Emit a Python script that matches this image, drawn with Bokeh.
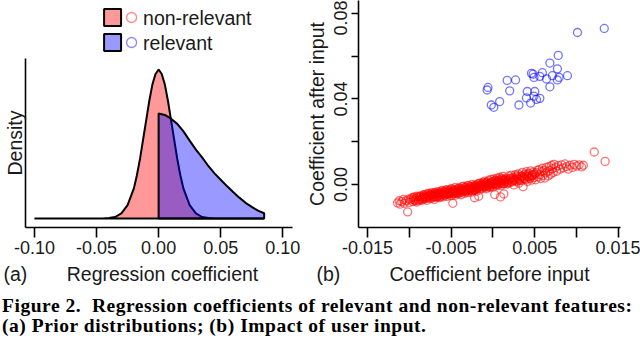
from bokeh.plotting import figure
from bokeh.models import Range1d, FixedTicker, Div, ColumnDataSource
from bokeh.layouts import row, column
from bokeh.core.properties import value
from bokeh.embed import file_html
from bokeh.resources import INLINE

# ---------------- data ----------------
series_names = ["non-relevant", "relevant"]
series_colors = ["red", "blue"]

# panel (a): prior densities
nonrel_x = [-0.1, -0.045, -0.04, -0.035, -0.03, -0.025, -0.02, -0.0175, -0.015, -0.0125,
            -0.01, -0.0075, -0.005, -0.0025, 0.0, 0.0025, 0.005, 0.0075, 0.01, 0.0125,
            0.015, 0.0175, 0.02, 0.025, 0.03, 0.035, 0.04, 0.045, 0.085]
nonrel_density = [0.0, 0.0, 0.12, 0.4, 1.4, 3.6, 8.0, 11.6, 16.0, 21.2,
                  26.4, 31.6, 36.0, 38.8, 40.0, 38.8, 36.0, 31.6, 26.4, 21.2,
                  16.0, 11.6, 8.0, 3.6, 1.4, 0.4, 0.12, 0.0, 0.0]
rel_x = [0.0, 0.005, 0.01, 0.015, 0.02, 0.025, 0.03, 0.035, 0.04, 0.045,
         0.05, 0.055, 0.06, 0.065, 0.07, 0.075, 0.08, 0.085]
rel_density = [28.2, 27.8, 26.8, 25.4, 23.4, 20.9, 18.5, 16.4, 14.1, 12.1,
               10.4, 8.7, 7.1, 5.6, 4.2, 3.1, 2.1, 1.4]

xa_ticks = [-0.10, -0.05, 0.0, 0.05, 0.10]
xa_labels = ["-0.10", "-0.05", "0.00", "0.05", "0.10"]

# panel (b): coefficients before / after user input
nonrel_before = [
    -0.0114, -0.0112, -0.0111, -0.0109, -0.0107, -0.0106, -0.0104, -0.0102, -0.0101, -0.0100,
    -0.0099, -0.0097, -0.0096, -0.0095, -0.0094, -0.0093, -0.0092, -0.0091, -0.0090, -0.0089,
    -0.0088, -0.0087,
    -0.0086, -0.0085, -0.0084, -0.0083, -0.0082, -0.0081, -0.0080, -0.0080, -0.0079, -0.0078,
    -0.0077, -0.0076, -0.0075, -0.0075, -0.0074, -0.0073, -0.0072, -0.0071, -0.0070, -0.0070,
    -0.0069, -0.0068, -0.0067, -0.0066, -0.0065, -0.0065, -0.0064, -0.0063, -0.0062, -0.0061,
    -0.0060, -0.0060,
    -0.0058, -0.0057, -0.0056, -0.0055, -0.0055, -0.0054, -0.0053, -0.0052, -0.0051, -0.0050,
    -0.0050, -0.0049, -0.0048, -0.0048, -0.0047, -0.0046, -0.0045, -0.0045, -0.0044, -0.0043,
    -0.0042, -0.0041, -0.0040, -0.0040, -0.0039, -0.0038, -0.0037, -0.0036, -0.0035, -0.0035,
    -0.0034, -0.0033, -0.0032, -0.0031, -0.0030, -0.0030, -0.0029, -0.0028, -0.0027, -0.0026,
    -0.0025, -0.0025, -0.0024, -0.0023, -0.0022, -0.0022, -0.0021, -0.0020, -0.0020,
    -0.0019, -0.0018, -0.0017, -0.0017, -0.0016, -0.0015, -0.0015, -0.0013, -0.0012, -0.0011,
    -0.0010, -0.0010, -0.0009, -0.0008, -0.0007, -0.0006, -0.0005, -0.0005, -0.0004, -0.0003,
    -0.0002, -0.0001, 0.0000, 0.0000, 0.0001, 0.0002, 0.0002, 0.0003, 0.0004, 0.0005,
    0.0005, 0.0006, 0.0007, 0.0008, 0.0009, 0.0009, 0.0010, 0.0010, 0.0011, 0.0012,
    0.0013, 0.0013, 0.0014, 0.0015,
    0.0016, 0.0017, 0.0018, 0.0019, 0.0020, 0.0021, 0.0022, 0.0023, 0.0024, 0.0025,
    0.0026, 0.0027, 0.0028, 0.0029, 0.0030, 0.0031, 0.0032, 0.0033, 0.0034, 0.0035,
    0.0036, 0.0037, 0.0038, 0.0039, 0.0040, 0.0041, 0.0042, 0.0043, 0.0044, 0.0045,
    0.0046, 0.0047, 0.0048, 0.0049, 0.0050,
    0.0051, 0.0052, 0.0053, 0.0054, 0.0055, 0.0056, 0.0057, 0.0058, 0.0059, 0.0060,
    0.0061, 0.0062, 0.0063, 0.0064, 0.0065, 0.0066, 0.0067, 0.0068, 0.0069, 0.0070,
    0.0071, 0.0072, 0.0073, 0.0075, 0.0076, 0.0078, 0.0080, 0.0082, 0.0084, 0.0086,
    0.0088, 0.0090, 0.0092, 0.0095, 0.0097, 0.0100, 0.0103, 0.0106, 0.0108, 0.0121,
    0.0134,
    -0.0084, -0.0082, -0.0079, -0.0077, -0.0074, -0.0072, -0.0070, -0.0068, -0.0066, -0.0064,
    -0.0062, -0.0060, -0.0058, -0.0056, -0.0054, -0.0052, -0.0050, -0.0048, -0.0046, -0.0044,
    -0.0042, -0.0041, -0.0039, -0.0038, -0.0036, -0.0034, -0.0033, -0.0031, -0.0029, -0.0028,
    -0.0026, -0.0024, -0.0023, -0.0021, -0.0019, -0.0018, -0.0016, -0.0014, -0.0013, -0.0011,
    -0.0009, -0.0008, -0.0006, -0.0004, -0.0003, -0.0001, 0.0001, 0.0003, 0.0004, 0.0006,
    0.0008, 0.0011, 0.0012, 0.0014, 0.0017, 0.0019, 0.0022, 0.0024, 0.0027, 0.0029,
    0.0032, 0.0034, 0.0037, 0.0040, 0.0043, 0.0046, 0.0049,
    -0.0095, -0.0093, -0.0091, -0.0089, -0.0087, -0.0085, -0.0083, -0.0081, -0.0078, -0.0076,
    -0.0073, -0.0071, -0.0069, -0.0067, -0.0065, -0.0063, -0.0061, -0.0059, -0.0057, -0.0055,
    -0.0053, -0.0051, -0.0049, -0.0047, -0.0045, -0.0043, -0.0041, -0.0039, -0.0037, -0.0035,
    -0.0033, -0.0031, -0.0029, -0.0027, -0.0025, -0.0023, -0.0021, -0.0019, -0.0017, -0.0015,
    -0.0013, -0.0011, -0.0009, -0.0007, -0.0005, -0.0003, -0.0001, 0.0001, 0.0003, 0.0005,
    0.0007, 0.0009, 0.0011, 0.0013, 0.0015, 0.0018, 0.0021, 0.0025, 0.0028, 0.0031,
    0.0035, 0.0038, 0.0041, 0.0044, 0.0047,
]
nonrel_after = [
    -0.0086, -0.0076, -0.0092, -0.0080, -0.0070, -0.0088, -0.0076, -0.0128, -0.0068, -0.0084,
    -0.0072, -0.0062, -0.0080, -0.0070, -0.0058, -0.0076, -0.0066, -0.0082, -0.0060, -0.0072,
    -0.0054, -0.0068,
    -0.0055, -0.0072, -0.0060, -0.0048, -0.0068, -0.0058, -0.0064, -0.0046, -0.0074, -0.0052,
    -0.0060, -0.0042, -0.0066, -0.0050, -0.0056, -0.0038, -0.0062, -0.0048, -0.0070, -0.0040,
    -0.0054, -0.0046, -0.0060, -0.0034, -0.0052, -0.0042, -0.0062, -0.0036, -0.0050, -0.0028,
    -0.0044, -0.0058,
    -0.0052, -0.0032, -0.0044, -0.0024, -0.0056, -0.0038, -0.0048, -0.0028, -0.0040, -0.0020,
    -0.0052, -0.0034, -0.0088, -0.0044, -0.0026, -0.0040, -0.0014, -0.0050, -0.0032, -0.0022,
    -0.0044, -0.0030, -0.0016, -0.0040, -0.0026, -0.0048, -0.0020, -0.0036, -0.0008, -0.0030,
    -0.0042, -0.0016, -0.0034, -0.0022, -0.0004, -0.0038, -0.0018, -0.0028, -0.0010, -0.0036,
    -0.0020, 0.0000, -0.0030, -0.0014, -0.0026, -0.0062, -0.0006, -0.0022, -0.0032,
    -0.0020, 0.0002, -0.0012, -0.0055, -0.0026, 0.0006, -0.0006, -0.0018, 0.0010, -0.0004,
    -0.0014, 0.0016, -0.0002, -0.0020, 0.0012, -0.0008, 0.0020, 0.0000, -0.0014, 0.0008,
    0.0024, -0.0004, 0.0014, -0.0012, 0.0026, -0.0047, 0.0004, 0.0018, -0.0006, 0.0030,
    0.0010, -0.0002, 0.0022, 0.0034, -0.0058, 0.0008, 0.0028, -0.0004, 0.0018, 0.0038,
    -0.0044, 0.0004, 0.0024, 0.0012,
    0.0030, 0.0002, 0.0020, 0.0040, 0.0008, 0.0026, 0.0044, 0.0012, 0.0032, -0.0002,
    0.0020, 0.0046, 0.0014, 0.0036, 0.0050, 0.0006, 0.0028, 0.0040, 0.0018, 0.0056,
    -0.0010, 0.0034, 0.0048, 0.0022, 0.0060, 0.0014, 0.0038, 0.0052, 0.0028, 0.0064,
    0.0020, 0.0044, 0.0058, 0.0032, 0.0050,
    0.0022, 0.0056, 0.0066, 0.0036, 0.0070, 0.0046, 0.0028, 0.0060, 0.0076, 0.0042,
    0.0066, 0.0030, 0.0054, 0.0080, 0.0060, 0.0040, 0.0084, 0.0066, 0.0048, 0.0090,
    0.0074, 0.0056, 0.0094, 0.0080, 0.0062, 0.0088, 0.0072, 0.0092, 0.0078, 0.0096,
    0.0084, 0.0072, 0.0090, 0.0080, 0.0094, 0.0086, 0.0092, 0.0082, 0.0090, 0.0152,
    0.0108,
    -0.0066, -0.0056, -0.0060, -0.0054, -0.0048, -0.0052, -0.0058, -0.0042, -0.0054, -0.0046,
    -0.0040, -0.0050, -0.0036, -0.0038, -0.0042, -0.0036, -0.0042, -0.0030, -0.0034, -0.0038,
    -0.0024, -0.0036, -0.0034, -0.0022, -0.0026, -0.0030, -0.0024, -0.0028, -0.0024, -0.0014,
    -0.0018, -0.0022, -0.0008, -0.0016, -0.0006, -0.0014, -0.0008, -0.0002, -0.0010, 0.0004,
    -0.0008, 0.0006, -0.0002, 0.0004, -0.0002, 0.0008, 0.0002, 0.0010, 0.0002, 0.0014,
    0.0010, 0.0006, 0.0020, 0.0014, 0.0012, 0.0022, 0.0016, 0.0026, 0.0022, 0.0028,
    0.0024, 0.0034, 0.0028, 0.0040, 0.0036, 0.0038, 0.0046,
    -0.0061, -0.0074, -0.0054, -0.0075, -0.0059, -0.0073, -0.0050, -0.0062, -0.0042, -0.0063,
    -0.0044, -0.0057, -0.0037, -0.0058, -0.0042, -0.0057, -0.0033, -0.0045, -0.0026, -0.0046,
    -0.0029, -0.0041, -0.0022, -0.0042, -0.0027, -0.0041, -0.0018, -0.0030, -0.0010, -0.0031,
    -0.0013, -0.0026, -0.0006, -0.0027, -0.0011, -0.0026, -0.0002, -0.0015, 0.0005, -0.0016,
    0.0002, -0.0010, 0.0009, -0.0011, 0.0004, -0.0010, 0.0013, 0.0001, 0.0020, 0.0000,
    0.0017, 0.0005, 0.0024, 0.0004, 0.0020, 0.0006, 0.0030, 0.0019, 0.0040, 0.0018,
    0.0039, 0.0027, 0.0048, 0.0030, 0.0044,
]
rel_before = [0.0101, 0.0133, 0.0078, 0.0068, 0.0077, 0.0046, 0.0048, 0.0059, 0.0056, 0.0049,
              0.0071, 0.0064, 0.0079, 0.0077, 0.0089, 0.0017, 0.0027, -0.0006, -0.0007, 0.0020,
              0.0068, 0.0041, 0.0050, 0.0040, 0.0049, 0.0056, 0.0045, 0.0052, 0.0031, 0.0008,
              -0.0002, 0.0001]
rel_after = [0.0711, 0.0730, 0.0604, 0.0568, 0.0541, 0.0520, 0.0516, 0.0523, 0.0506, 0.0501,
             0.0509, 0.0494, 0.0501, 0.0489, 0.0509, 0.0487, 0.0489, 0.0454, 0.0442, 0.0438,
             0.0457, 0.0435, 0.0435, 0.0405, 0.0413, 0.0403, 0.0381, 0.0398, 0.0372, 0.0388,
             0.0372, 0.0361]

xb_ticks = [-0.015, -0.01, -0.005, 0.0, 0.005, 0.01, 0.015]
xb_labels = ["-0.015", "", "-0.005", "", "0.005", "", "0.015"]
yb_ticks = [0.0, 0.02, 0.04, 0.06, 0.08]
yb_labels = ["0.00", "", "0.04", "", "0.08"]

panel_tags = ["(a)", "(b)"]
x_titles = ["Regression coefficient", "Coefficient before input"]
ya_title = "Density"
yb_title = "Coefficient after input"
caption_line1 = "Figure 2.&nbsp; Regression coefficients of relevant and non-relevant features:"
caption_line2 = "(a) Prior distributions; (b) Impact of user input."

# ---------------- style ----------------
SANS = "Liberation Sans"
TICK_FS = "18px"
LAB_FS = "19.5px"
TXT = "#1a1a1a"


def style_axis(ax):
    ax.axis_line_color = "black"
    ax.axis_line_width = 1.6
    ax.major_tick_line_color = "black"
    ax.major_tick_line_width = 1.6
    ax.minor_tick_line_color = None
    ax.major_tick_in = 0
    ax.major_label_text_font = SANS
    ax.major_label_text_font_size = TICK_FS
    ax.major_label_text_color = TXT
    ax.axis_label_text_font = SANS
    ax.axis_label_text_font_size = LAB_FS
    ax.axis_label_text_font_style = "normal"
    ax.axis_label_text_color = TXT


W_A, H_LEG, H_A = 302, 58, 202
W_B, H_B = 338, 260
W_ALL, H_STRIP = 640, 30

# ---------------- legend strip (top of panel a) ----------------
leg = figure(width=W_A, height=H_LEG, x_range=Range1d(0, W_A), y_range=Range1d(H_LEG, 0),
             toolbar_location=None, output_backend="svg", min_border=0,
             x_axis_location=None, y_axis_location=None)
leg.grid.visible = False
leg.outline_line_color = None
leg_src = ColumnDataSource(dict(name=series_names, color=series_colors,
                                sq_x=[98.5, 98.5], ci_x=[120, 120], tx_x=[133, 133], y=[17, 42]))
leg.scatter(x="sq_x", y="y", source=leg_src, marker="square", size=17,
            fill_color="color", fill_alpha=0.4, line_color="black", line_width=2)
leg.scatter(x="ci_x", y="y", source=leg_src, marker="circle", size=10, fill_color=None,
            line_color="color", line_alpha=0.45, line_width=1.4)
leg.text(x="tx_x", y="y", text="name", source=leg_src, text_font=value(SANS),
         text_font_size=LAB_FS, text_baseline="middle", text_color=TXT)

# ---------------- panel (a) ----------------
fa = figure(width=W_A, height=H_A, x_range=Range1d(-0.1072, 0.1078), y_range=Range1d(-2.416, 42.95),
            toolbar_location=None, output_backend="svg",
            min_border_left=23, min_border_right=10, min_border_top=0, min_border_bottom=33)
fa.grid.visible = False
fa.outline_line_color = None
fa.patch(nonrel_x, nonrel_density, fill_color=series_colors[0], fill_alpha=0.4,
         line_color="black", line_width=2)
rel_px = [rel_x[0]] + rel_x + [rel_x[-1]]
rel_py = [0.0] + rel_density + [0.0]
fa.patch(rel_px, rel_py, fill_color=series_colors[1], fill_alpha=0.4,
         line_color="black", line_width=2)

style_axis(fa.xaxis[0])
fa.xaxis.ticker = FixedTicker(ticks=xa_ticks)
fa.xaxis.major_label_overrides = dict(zip(xa_ticks, xa_labels))
fa.xaxis.major_tick_out = 10
fa.xaxis.major_label_standoff = 3
style_axis(fa.yaxis[0])
fa.yaxis.ticker = FixedTicker(ticks=[])
fa.yaxis.major_tick_out = 0
fa.yaxis.major_label_standoff = 0
fa.yaxis.axis_label = ya_title
fa.yaxis.axis_label_standoff = 0

# ---------------- panel (b) ----------------
fb = figure(width=W_B, height=H_B, x_range=Range1d(-0.01607, 0.01524), y_range=Range1d(-0.02012, 0.08608),
            toolbar_location=None, output_backend="svg",
            min_border_left=55, min_border_right=20, min_border_top=0, min_border_bottom=33)
fb.grid.visible = False
fb.outline_line_color = None
n_red = min(len(nonrel_before), len(nonrel_after))
fb.scatter(nonrel_before[:n_red], nonrel_after[:n_red], marker="circle", size=8, fill_color=None,
           line_color=series_colors[0], line_alpha=0.55, line_width=1.3)
fb.scatter(rel_before, rel_after, marker="circle", size=8, fill_color=None,
           line_color=series_colors[1], line_alpha=0.55, line_width=1.3)

style_axis(fb.xaxis[0])
fb.xaxis.ticker = FixedTicker(ticks=xb_ticks)
fb.xaxis.major_label_overrides = dict(zip(xb_ticks, xb_labels))
fb.xaxis.major_tick_out = 10
fb.xaxis.major_label_standoff = 3
style_axis(fb.yaxis[0])
fb.yaxis.ticker = FixedTicker(ticks=yb_ticks)
fb.yaxis.major_label_overrides = dict(zip(yb_ticks, yb_labels))
fb.yaxis.major_label_orientation = "vertical"
fb.yaxis.major_tick_out = 7
fb.yaxis.major_label_standoff = 4
fb.yaxis.axis_label = yb_title
fb.yaxis.axis_label_standoff = 4

# ---------------- x-axis titles row: "(a) Regression coefficient", "(b) Coefficient before input" ----------------
strip = figure(width=W_ALL, height=H_STRIP, x_range=Range1d(0, W_ALL), y_range=Range1d(H_STRIP, 0),
               toolbar_location=None, output_backend="svg", min_border=0,
               x_axis_location=None, y_axis_location=None)
strip.grid.visible = False
strip.outline_line_color = None
strip.text(x=[3, 316], y=[13, 13], text=panel_tags, text_font=value(SANS), text_font_size=LAB_FS,
           text_baseline="middle", text_align="left", text_color=TXT)
strip.text(x=[162, 489], y=[13, 13], text=x_titles, text_font=value(SANS), text_font_size=LAB_FS,
           text_baseline="middle", text_align="center", text_color=TXT)

# ---------------- caption ----------------
caption = Div(text=caption_line1 + "<br>" + caption_line2, width=638, height=51, margin=(0, 0, 0, 2),
              styles={"font-family": "'Liberation Serif', serif", "font-weight": "bold",
                      "font-size": "19.5px", "line-height": "19.5px", "letter-spacing": "0.53px",
                      "padding-top": "6px", "white-space": "nowrap", "color": "black"})

layout = column(row(column(leg, fa), fb), strip, caption)

with open("out.html", "w") as f:
    f.write(file_html(layout, INLINE))
